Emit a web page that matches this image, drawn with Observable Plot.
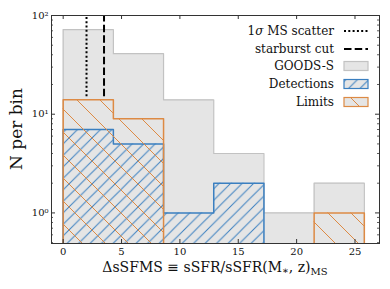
<!DOCTYPE html>
<html><head><meta charset="utf-8">
<script src="https://cdn.jsdelivr.net/npm/d3@7"></script>
<script src="https://cdn.jsdelivr.net/npm/@observablehq/plot@0.6"></script>
<style>body{margin:0;background:#fff} #chart{width:390px;height:289px}</style>
</head><body><div id="chart"></div>
<script>
// ---- data ----
const binEdges = [0, 4.3, 8.6, 12.9, 17.2, 21.5, 25.8];
const goodsS = [72, 41, 14, 4, 1, 2];
const detections = [7, 5, 1, 2, 0, 0];
const limits = [14, 9, 0, 0, 0, 1];
const msScatter = 2.0;
const starburstCut = 3.5;
const cutLineRange = [15, 100];
const xTicks = [0, 5, 10, 15, 20, 25];
const yTicks = [1, 10, 100];
const yTickLabels = ["10⁰", "10¹", "10²"];
const legendLabels = ["MS scatter", "starburst cut", "GOODS-S", "Detections", "Limits"];

// ---- layout / style ----
const W = 390, H = 289, ml = 51, mr = 11, mt = 15, mb = 46;
const fw = W - ml - mr, fh = H - mt - mb;
const blue = "#3a7fc0", orange = "#dd8a44", grayFill = "#e5e5e5", grayEdge = "#c2c2c2";
const base = 0.1;
const yMinor = [];
for (const p of [0.1, 1, 10]) for (let k = 2; k <= 9; k++) { const v = +(k * p).toFixed(2); if (v >= 0.49 && v <= 100) yMinor.push(v); }

function steps(vals) {
  const n = vals.length, pts = [{x: binEdges[0], y: base}];
  vals.forEach((v, i) => pts.push({x: binEdges[i], y: v > 0 ? v : base}));
  pts.push({x: binEdges[n], y: vals[n - 1] > 0 ? vals[n - 1] : base});
  pts.push({x: binEdges[n], y: base});
  return pts;
}
function hist(vals, fill, stroke, sw) {
  const pts = steps(vals);
  return [
    Plot.areaY(pts, {x: "x", y1: base, y2: "y", curve: "step-after", fill, clip: true}),
    Plot.line(pts, {x: "x", y: "y", curve: "step-after", stroke, strokeWidth: sw, clip: true})
  ];
}

const svg = Plot.plot({
  width: W, height: H, marginLeft: ml, marginRight: mr, marginTop: mt, marginBottom: mb,
  style: {fontFamily: "DejaVu Serif", background: "#fff", color: "#111"},
  x: {domain: [-1, 27.1]},
  y: {type: "log", domain: [0.49, 100]},
  marks: [
    ...hist(goodsS, grayFill, grayEdge, 1.2),
    ...hist(detections, "url(#hatchBlue)", blue, 1.5),
    ...hist(limits, "url(#hatchOrange)", orange, 1.5),
    Plot.ruleX([msScatter], {y1: cutLineRange[0], y2: cutLineRange[1], stroke: "#000", strokeWidth: 2, strokeDasharray: "2,2.3"}),
    Plot.ruleX([starburstCut], {y1: cutLineRange[0], y2: cutLineRange[1], stroke: "#000", strokeWidth: 2, strokeDasharray: "7.5,3.2"}),
    // inward ticks on all four sides
    Plot.tickX(xTicks, {x: d => d, insetTop: fh - 4, stroke: "#333"}),
    Plot.tickX(xTicks, {x: d => d, insetBottom: fh - 4, stroke: "#333"}),
    Plot.tickY(yTicks, {y: d => d, insetRight: fw - 4, stroke: "#333"}),
    Plot.tickY(yTicks, {y: d => d, insetLeft: fw - 4, stroke: "#333"}),
    Plot.tickY(yMinor, {y: d => d, insetRight: fw - 2, stroke: "#333", strokeWidth: 0.8}),
    Plot.tickY(yMinor, {y: d => d, insetLeft: fw - 2, stroke: "#333", strokeWidth: 0.8}),
    Plot.frame({stroke: "#333", strokeWidth: 1}),
    Plot.axisX(xTicks, {tickSize: 0, tickPadding: 4, fontSize: 10, label: null}),
    Plot.axisY(yTicks, {tickSize: 0, tickPadding: 3, fontSize: 10, label: null, tickFormat: d => yTickLabels[yTicks.indexOf(d)]})
  ]
});

const s = d3.select(svg);
const defs = s.insert("defs", ":first-child");
function hatch(id, size, color, back) {
  const p = defs.append("pattern").attr("id", id).attr("patternUnits", "userSpaceOnUse")
    .attr("width", size).attr("height", size);
  const d = back
    ? `M0,0L${size},${size}M${size - 3},-3L${size + 3},3M-3,${size - 3}L3,${size + 3}`
    : `M0,${size}L${size},0M-3,3L3,-3M${size - 3},${size + 3}L${size + 3},${size - 3}`;
  p.append("path").attr("d", d).attr("stroke", color).attr("stroke-width", 1).attr("fill", "none");
}
hatch("hatchBlue", 11.5, blue, false);
hatch("hatchOrange", 23, orange, true);

// legend
const lg = s.append("g").attr("font-family", "DejaVu Serif").attr("font-size", 12).attr("fill", "#111");
const rowsY = [31, 49, 66, 84, 102];
const tx = 334, hx0 = 344, hx1 = 368;
legendLabels.forEach((lab, i) => {
  const t = lg.append("text").attr("x", tx).attr("y", rowsY[i]).attr("dy", "0.35em").attr("text-anchor", "end");
  if (i === 0) { t.append("tspan").text("1"); t.append("tspan").attr("font-style", "italic").text("σ"); t.append("tspan").text(" " + lab); }
  else t.text(lab);
});
lg.append("line").attr("x1", hx0).attr("x2", hx1).attr("y1", rowsY[0]).attr("y2", rowsY[0])
  .attr("stroke", "#000").attr("stroke-width", 2).attr("stroke-dasharray", "2,2.3");
lg.append("line").attr("x1", hx0).attr("x2", hx1).attr("y1", rowsY[1]).attr("y2", rowsY[1])
  .attr("stroke", "#000").attr("stroke-width", 2).attr("stroke-dasharray", "7.5,3.2");
[[2, grayFill, grayEdge], [3, "url(#hatchBlue)", blue], [4, "url(#hatchOrange)", orange]].forEach(([i, f, st]) => {
  lg.append("rect").attr("x", hx0).attr("y", rowsY[i] - 4.5).attr("width", hx1 - hx0).attr("height", 9)
    .attr("fill", grayFill).attr("stroke", "none");
  lg.append("rect").attr("x", hx0).attr("y", rowsY[i] - 4.5).attr("width", hx1 - hx0).attr("height", 9)
    .attr("fill", f).attr("stroke", st).attr("stroke-width", 1.2);
});

// axis labels
const xl = s.append("text").attr("x", ml + fw / 2).attr("y", 272).attr("text-anchor", "middle")
  .attr("font-family", "DejaVu Serif").attr("font-size", 14).attr("fill", "#111");
xl.append("tspan").text("ΔsSFMS ≡ sSFR/sSFR(M");
xl.append("tspan").attr("font-size", 10).attr("dy", 2).text("∗");
xl.append("tspan").attr("dy", -2).text(", z)");
xl.append("tspan").attr("font-size", 10).attr("dy", 3).text("MS");
s.append("text").attr("transform", `translate(22,${mt + fh / 2}) rotate(-90)`).attr("text-anchor", "middle")
  .attr("font-family", "DejaVu Serif").attr("font-size", 17).attr("fill", "#111").text("N per bin");

document.getElementById("chart").appendChild(svg);
</script>
</body></html>
